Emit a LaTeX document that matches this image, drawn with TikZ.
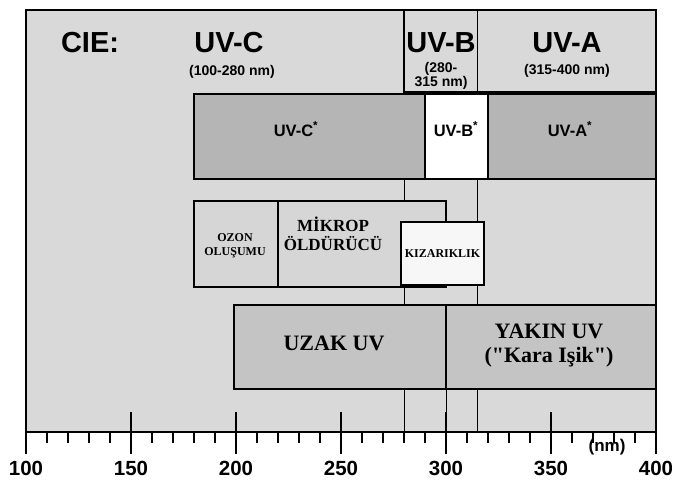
\documentclass[tikz,border=0pt]{standalone}
\usepackage{fontspec}
\setmainfont{Liberation Serif}
\setsansfont{Liberation Sans}
\colorlet{bgfill}{gray!30}
\colorlet{darkfill}{gray!58}
\colorlet{midfill}{gray!46}
\colorlet{lightfill}{gray!32}
\colorlet{palefill}{red!3!gray!6}
\begin{document}
\begin{tikzpicture}[x=1pt,y=-1pt,
  frame/.style={line width=1.3pt},
  boxline/.style={draw=black,line width=1.5pt},
  thinline/.style={line width=1pt},
  sfbig/.style={font=\sffamily\bfseries\fontsize{29}{29}\selectfont},
  sfsmall/.style={font=\sffamily\bfseries\fontsize{14}{13}\selectfont,align=center},
  sfmid/.style={font=\sffamily\bfseries\fontsize{16.5}{16.5}\selectfont},
  serifsmall/.style={font=\rmfamily\bfseries\fontsize{12}{14}\selectfont,align=center},
  serifmid/.style={font=\rmfamily\bfseries\fontsize{17}{19}\selectfont,align=center},
  serifkiz/.style={font=\rmfamily\bfseries\fontsize{12}{12}\selectfont},
  serifbig/.style={font=\rmfamily\bfseries\fontsize{22}{24}\selectfont,align=center},
  axislabel/.style={font=\sffamily\bfseries\fontsize{20.5}{20.5}\selectfont}]
\useasboundingbox (0,0) rectangle (675,484);
\fill[white] (0,0) rectangle (675,484);
% background of the frame
\fill[bgfill] (26,10) rectangle (656,432);
% long vertical lines at 280 and 315 nm
\draw[thinline] (404,92) -- (404,432);
\draw[thinline] (477.5,92) -- (477.5,432);
% CIE band boxes
\draw[boxline] (404,10) rectangle (477.5,92);
\draw[boxline] (477.5,10) rectangle (656,92);
% second row
\draw[boxline,fill=darkfill] (194,94) rectangle (425,179);
\draw[boxline,fill=white] (425,94) rectangle (488,179);
\draw[boxline,fill=darkfill] (488,94) rectangle (656,179);
% third row
\draw[boxline,fill=lightfill] (194,201) rectangle (278,287);
\draw[boxline,fill=lightfill] (278,201) rectangle (446,287);
\draw[boxline,fill=palefill] (401,222) rectangle (484,285);
% fourth row
\draw[boxline,fill=midfill] (234,305) rectangle (446,389);
\draw[boxline,fill=midfill] (446,305) rectangle (656,389);
\draw[thinline] (446,389) -- (446,432);
% outer frame
\draw[frame] (26,432) -- (26,10) -- (656,10) -- (656,432) -- cycle;
% ticks
\foreach \v in {110,120,130,140,160,170,180,190,210,220,230,240,260,270,280,290,310,320,330,340,360,370,380,390}
  \draw[line width=1.2pt] ({26+2.1*(\v-100)},432) -- ({26+2.1*(\v-100)},443);
\foreach \v in {150,200,250,300,350}
  \draw[line width=1.6pt] ({26+2.1*(\v-100)},412) -- ({26+2.1*(\v-100)},454);
\draw[line width=1.6pt] (26,432) -- (26,454);
\draw[line width=1.6pt] (656,432) -- (656,454);
% axis labels
\node[axislabel] (l100) at (26,468) {100};
\node[axislabel] (l150) at (131,468) {150};
\node[axislabel] (l200) at (236,468) {200};
\node[axislabel] (l250) at (341,468) {250};
\node[axislabel] (l300) at (446,468) {300};
\node[axislabel] (l350) at (551,468) {350};
\node[axislabel] (l400) at (656,468) {400};
\node[font=\sffamily\bfseries\fontsize{17}{17}\selectfont] (nm) at (607,447) {(nm)};
% CIE labels
\node[sfbig] (cie) at (90,43) {CIE:};
\node[sfbig] (uvc) at (229,43) {UV-C};
\node[sfsmall] (uvcr) at (232,72) {(100-280 nm)};
\node[sfbig] (uvb) at (441,43) {UV-B};
\node[sfsmall] (uvbr) at (441,76) {(280-\\315 nm)};
\node[sfbig] (uva) at (567,43) {UV-A};
\node[sfsmall] (uvar) at (567,71) {(315-400 nm)};
% second row labels
\node[sfmid] (uvcs) at (296,129) {UV-C\textsuperscript{*}};
\node[sfmid] (uvbs) at (456,129) {UV-B\textsuperscript{*}};
\node[sfmid] (uvas) at (570,129) {UV-A\textsuperscript{*}};
% third row labels
\node[serifsmall] (ozon) at (235,246) {OZON\\OLUŞUMU};
\node[serifmid] (mikrop) at (333,234) {MİKROP\\ÖLDÜRÜCÜ};
\node[serifkiz] (kiz) at (442.5,254) {KIZARIKLIK};
% fourth row labels
\node[serifbig] (uzak) at (334,343) {UZAK UV};
\node[serifbig] (yakin) at (549,346) {YAKIN UV\\(\textquotedbl Kara Işik\textquotedbl)};
\end{tikzpicture}
\end{document}
